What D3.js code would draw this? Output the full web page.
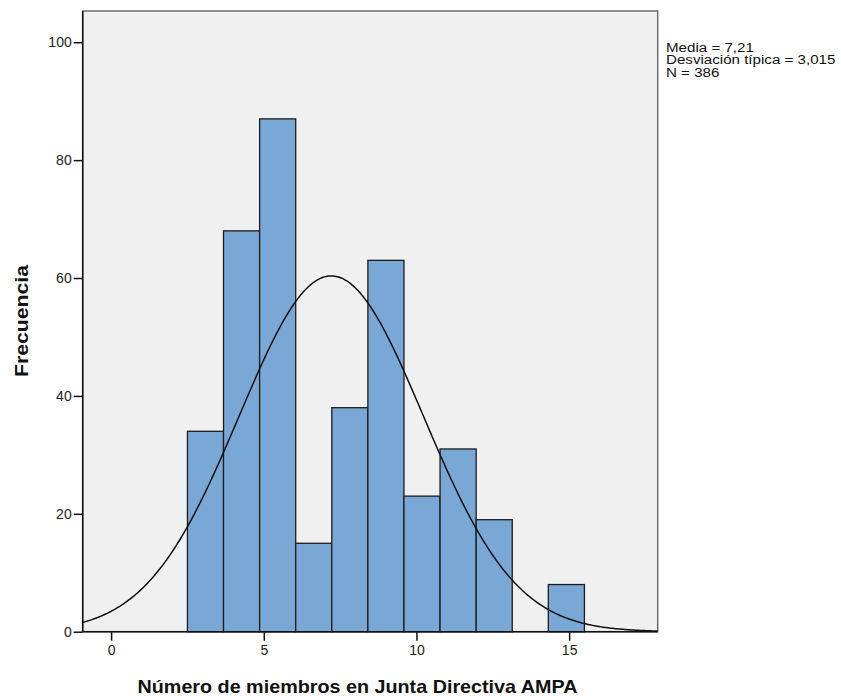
<!DOCTYPE html>
<html lang="es">
<head>
  <meta charset="UTF-8">
  <title>Histograma</title>
  <script src="https://d3js.org/d3.v7.min.js"></script>
  <style>
    body { margin: 0; background: #fff; font-family: Arial, "Liberation Sans", sans-serif; }
    .tick text { font-size: 14px; fill: #222; }
  </style>
</head>
<body>
<div id="chart"></div>
<script>
  // Bins: 11 bins from 2.5 to 15.5
  const binStart = 2.5;
  const binEnd = 15.5;
  const counts = [34, 68, 87, 15, 38, 63, 23, 31, 19, 0, 8];
  const xTicks = [0, 5, 10, 15];
  const yTicks = [0, 20, 40, 60, 80, 100];
  const mean = 7.21, sd = 3.015, n = 386;
  const statsLines = ["Media = 7,21", "Desviación típica = 3,015", "N = 386"];

  const width = 841, height = 696;
  const plot = { left: 82.7, right: 657.7, top: 11, bottom: 631.7 };

  const svg = d3.select("#chart").append("svg")
    .attr("width", width)
    .attr("height", height);

  const x = d3.scaleLinear().domain([-0.93, 17.9]).range([plot.left, plot.right]);
  const y = d3.scaleLinear().domain([0, 105.3]).range([plot.bottom, plot.top]);

  const binW = (binEnd - binStart) / counts.length;
  const bins = counts.map((c, i) => ({ x0: binStart + i * binW, x1: binStart + (i + 1) * binW, c }));

  // plot background + frame
  svg.append("rect")
    .attr("x", plot.left).attr("y", plot.top)
    .attr("width", plot.right - plot.left)
    .attr("height", plot.bottom - plot.top)
    .attr("fill", "#f0f0f0")
    .attr("stroke", "#6e6e6e")
    .attr("stroke-width", 1.5);

  svg.append("defs").append("clipPath").attr("id", "clip")
    .append("rect")
    .attr("x", plot.left).attr("y", plot.top)
    .attr("width", plot.right - plot.left)
    .attr("height", plot.bottom - plot.top);

  // bars
  svg.append("g").selectAll("rect")
    .data(bins.filter(d => d.c > 0))
    .enter()
    .append("rect")
    .attr("x", d => x(d.x0))
    .attr("y", d => y(d.c))
    .attr("width", d => x(d.x1) - x(d.x0))
    .attr("height", d => y(0) - y(d.c))
    .attr("fill", "#79a8d6")
    .attr("stroke", "#1c1c1c")
    .attr("stroke-width", 1.3);

  // normal curve
  const k = n * binW / (sd * Math.sqrt(2 * Math.PI));
  const pts = d3.range(-0.93, 17.95, 0.05).map(v => [v, k * Math.exp(-0.5 * ((v - mean) / sd) ** 2)]);
  svg.append("path")
    .datum(pts)
    .attr("clip-path", "url(#clip)")
    .attr("fill", "none")
    .attr("stroke", "#111")
    .attr("stroke-width", 1.5)
    .attr("d", d3.line().x(d => x(d[0])).y(d => y(d[1])).curve(d3.curveBasis));

  // axes
  const yAxis = svg.append("g")
    .attr("transform", `translate(${plot.left},0)`)
    .call(d3.axisLeft(y).tickValues(yTicks).tickSize(9).tickSizeOuter(0).tickPadding(2));
  yAxis.select(".domain").attr("stroke", "#111").attr("stroke-width", 1.5)
    .attr("d", `M0,${plot.top}V${plot.bottom}`);
  yAxis.selectAll(".tick line").attr("stroke", "#111").attr("stroke-width", 1.5);

  const xAxis = svg.append("g")
    .attr("transform", `translate(0,${plot.bottom})`)
    .call(d3.axisBottom(x).tickValues(xTicks).tickSize(9).tickSizeOuter(0).tickPadding(4));
  xAxis.select(".domain").attr("stroke", "#111").attr("stroke-width", 1.5)
    .attr("d", `M${plot.left},0H${plot.right}`);
  xAxis.selectAll(".tick line").attr("stroke", "#111").attr("stroke-width", 1.5);

  // axis titles
  svg.append("text")
    .attr("transform", `translate(28,321) rotate(-90)`)
    .attr("text-anchor", "middle")
    .attr("font-size", "18px")
    .attr("font-weight", "bold")
    .attr("fill", "#111")
    .attr("textLength", 112)
    .attr("lengthAdjust", "spacingAndGlyphs")
    .text("Frecuencia");

  svg.append("text")
    .attr("x", 357.5)
    .attr("y", 693)
    .attr("text-anchor", "middle")
    .attr("font-size", "19px")
    .attr("font-weight", "bold")
    .attr("fill", "#111")
    .attr("textLength", 440)
    .attr("lengthAdjust", "spacingAndGlyphs")
    .text("Número de miembros en Junta Directiva AMPA");

  // stats (slightly wide lettering, as in the original)
  svg.append("g").selectAll("text")
    .data(statsLines)
    .enter()
    .append("text")
    .attr("x", 666)
    .attr("y", (d, i) => 51.5 + i * 12.5)
    .attr("font-size", "12px")
    .attr("fill", "#111")
    .text(d => d)
    .each(function () {
      const w = this.getComputedTextLength();
      d3.select(this).attr("textLength", w * 1.26).attr("lengthAdjust", "spacingAndGlyphs");
    });
</script>
</body>
</html>
